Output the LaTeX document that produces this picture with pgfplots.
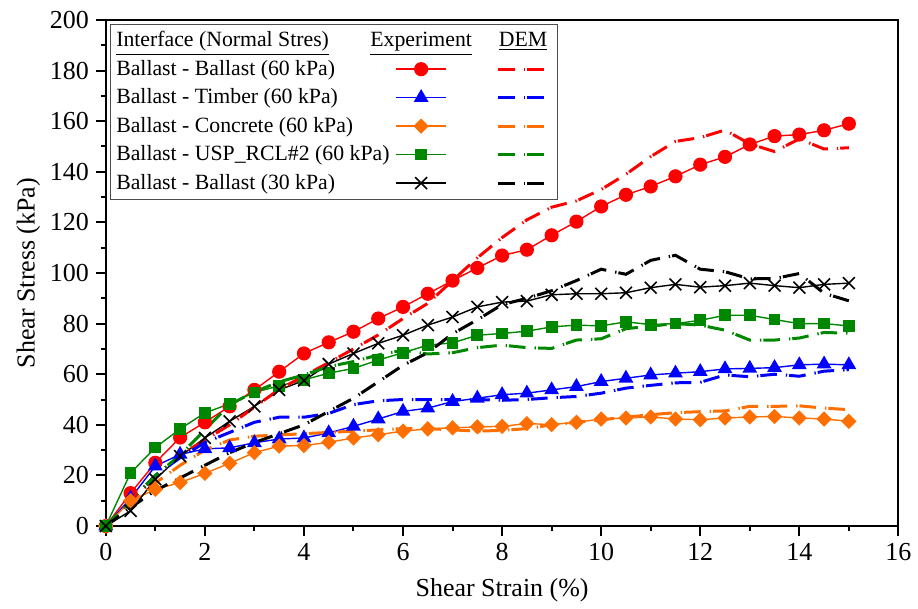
\documentclass[border=0pt]{standalone}
\usepackage{fontspec}
\setmainfont{Liberation Serif}
\usepackage{pgfplots}
\pgfplotsset{compat=1.18}
\definecolor{cred}{RGB}{255,0,0}
\definecolor{cblue}{RGB}{0,0,255}
\definecolor{corange}{RGB}{255,110,0}
\definecolor{cgreen}{RGB}{0,135,0}
\tikzset{demline/.style={line width=1.5pt, line cap=butt, dash pattern=on 8.3pt off 4.5pt on 0.7pt off 1pt}}
\begin{document}
\begin{tikzpicture}
\begin{axis}[
  scale only axis, width=397pt, height=253.5pt,
  xmin=0, xmax=16, ymin=0, ymax=200,
  xtick={0,2,...,16}, ytick={0,20,...,200},
  minor x tick num=1, minor y tick num=1,
  tick align=outside, xtick pos=bottom, ytick pos=left,
  major tick length=5pt, minor tick length=2.5pt,
  every tick/.style={black, line width=1pt},
  axis line style={line width=1pt},
  /pgf/number format/assume math mode=true,
  tick label style={font=\fontsize{13}{15}\selectfont},
  label style={font=\fontsize{13}{15}\selectfont},
  xlabel={Shear Strain (\%)}, ylabel={Shear Stress (kPa)},
  xlabel style={yshift=-2pt}, ylabel style={yshift=-2pt},
  legend columns=3,
  legend image code/.code={\draw[mark repeat=2,mark phase=2,#1] plot coordinates {(0pt,0pt) (12.5pt,0pt) (25pt,0pt)};},
  legend style={at={(0,1)}, anchor=north west, xshift=2pt, yshift=-2pt,
    draw=black!70, line width=0.5pt, font=\fontsize{10.9}{12.5}\selectfont,
    inner xsep=2pt, inner ysep=2pt, row sep=2.2pt, column sep=0pt,
    nodes={inner xsep=1pt, inner ysep=1.5pt},
    /tikz/column 2/.style={column sep=2pt},
    /tikz/column 4/.style={column sep=23pt}},
  legend cell align=left,
]
% Experiments
\addplot[cred, line width=0.7pt, mark=*, mark size=3.2pt, forget plot] coordinates {
(0,0) (0.5,13) (1,25) (1.5,35) (2,41) (2.5,47.3) (3,53.8) (3.5,61) (4,68.2) (4.5,72.6) (5,76.8) (5.5,82) (6,86.6) (6.5,91.8) (7,97) (7.5,102) (8,106.9) (8.5,109.2) (9,114.9) (9.5,120.3) (10,126.3) (10.5,130.9) (11,134.2) (11.5,138.2) (12,142.8) (12.5,145.9) (13,150.8) (13.5,154.1) (14,154.7) (14.5,156.4) (15,159)};
\addplot[cblue, line width=0.7pt, mark=triangle*, mark size=3.6pt, forget plot] coordinates {
(0,0) (0.5,11) (1,23.7) (1.5,28.3) (2,30.5) (2.5,30.9) (3,32.9) (3.5,34.4) (4,34.8) (4.5,36.8) (5,39.4) (5.5,42.3) (6,45.3) (6.5,46.6) (7,49.2) (7.5,50.5) (8,51.9) (8.5,52.5) (9,53.8) (9.5,55.1) (10,57.1) (10.5,58.4) (11,59.7) (11.5,60.4) (12,61) (12.5,62.1) (13,62.3) (13.5,62.6) (14,63.7) (14.5,64) (15,63.7)};
\addplot[corange, line width=0.7pt, mark=diamond*, mark size=3.35pt, mark options={xscale=1.33}, forget plot] coordinates {
(0,0) (0.5,10) (1,14.5) (1.5,17.2) (2,20.8) (2.5,24.8) (3,29) (3.5,31.6) (4,31.8) (4.5,33.1) (5,34.8) (5.5,36.1) (6,37.5) (6.5,38.4) (7,38.8) (7.5,39.2) (8,39.4) (8.5,40.5) (9,40.1) (9.5,41) (10,42.3) (10.5,42.7) (11,43.1) (11.5,42.3) (12,42) (12.5,42.7) (13,43.1) (13.5,43.3) (14,42.7) (14.5,42.3) (15,41.4)};
\addplot[cgreen, line width=0.7pt, mark=square*, mark size=2.6pt, forget plot] coordinates {
(0,0) (0.5,21) (1,31) (1.5,38.4) (2,44.7) (2.5,48.3) (3,52.8) (3.5,55.4) (4,57.8) (4.5,60.4) (5,62.3) (5.5,65.6) (6,68.5) (6.5,71.5) (7,72.4) (7.5,75.4) (8,76.1) (8.5,77) (9,78.7) (9.5,79.4) (10,79.1) (10.5,80.7) (11,79.6) (11.5,80) (12,81.3) (12.5,83.3) (13,83.3) (13.5,81.6) (14,80) (14.5,80) (15,79.1)};
\addplot[black, line width=0.7pt, mark=x, mark size=4.2pt, mark options={line width=0.8pt}, forget plot] coordinates {
(0,0) (0.5,6) (1,18.5) (1.5,27.6) (2,34.8) (2.5,41.4) (3,47.3) (3.5,53.8) (4,57.5) (4.5,64) (5,68.2) (5.5,72.2) (6,75.4) (6.5,79.4) (7,82.6) (7.5,86.6) (8,88.5) (8.5,88.9) (9,91.4) (9.5,91.8) (10,91.8) (10.5,92.2) (11,94.2) (11.5,95.5) (12,94.4) (12.5,95) (13,96) (13.5,95) (14,94.2) (14.5,95.5) (15,96)};
% DEM
\addplot[cred, demline, forget plot] coordinates {
(0,0) (0.5,10) (1,19) (1.5,28) (2,34) (2.5,40) (3,47) (3.5,54) (4,59.3) (4.5,64.6) (5,70) (5.5,75.5) (6,82) (6.5,88) (7,97) (7.5,106) (8,114) (8.5,121) (9,126) (9.5,128.5) (10,133) (10.5,139) (11,146) (11.5,152) (12,153.5) (12.5,156.5) (13,151) (13.5,148) (14,153) (14.5,149) (15,149.5)};
\addplot[cblue, demline, forget plot] coordinates {
(0,0) (0.5,10) (1,20) (1.5,27) (2,33) (2.5,37) (3,41) (3.5,43) (4,43) (4.5,44.5) (5,48) (5.5,49.5) (6,50) (6.5,50) (7,50) (7.5,50) (8,49.7) (8.5,50) (9,50.7) (9.5,51.2) (10,52.5) (10.5,54.5) (11,55.6) (11.5,56.6) (12,56.8) (12.5,59.7) (13,59) (13.5,60) (14,59.2) (14.5,61.2) (15,61.8)};
\addplot[corange, demline, forget plot] coordinates {
(0,0) (0.5,9) (1,17) (1.5,24) (2,30) (2.5,34) (3,35.5) (3.5,36) (4,36.5) (4.5,37) (5,37.5) (5.5,38) (6,38.5) (6.5,38.5) (7,38) (7.5,37.5) (8,37.8) (8.5,38.5) (9,40) (9.5,41) (10,42) (10.5,43) (11,44) (11.5,44.8) (12,45.2) (12.5,45.5) (13,47.3) (13.5,47.3) (14,47.5) (14.5,46.6) (15,46)};
\addplot[cgreen, demline, forget plot] coordinates {
(0,0) (0.5,10) (1,20) (1.5,28) (2,38) (2.5,48) (3,53) (3.5,57) (4,59.7) (4.5,63) (5,65) (5.5,67.6) (6,69.5) (6.5,68) (7,68.5) (7.5,70.5) (8,71.5) (8.5,70.5) (9,70.2) (9.5,73.5) (10,74) (10.5,78) (11,79) (11.5,80) (12,79.4) (12.5,77.4) (13,73.5) (13.5,73.5) (14,74.3) (14.5,76.5) (15,76.2)};
\addplot[black, demline, forget plot] coordinates {
(0,0) (0.5,7.3) (1,14) (1.5,19) (2,24) (2.5,29) (3,33) (3.5,36.5) (4,40) (4.5,45.3) (5,50.5) (5.5,57) (6,63.5) (6.5,68.5) (7,76) (7.5,81.5) (8,87.5) (8.5,90) (9,93) (9.5,97) (10,101.5) (10.5,99.5) (11,105) (11.5,107) (12,101.5) (12.5,100.5) (13,97.7) (13.5,97.8) (14,99.8) (14.5,92) (15,89)};
% Legend
\addlegendimage{empty legend}
\addlegendentry{\underline{Interface (Normal Stres)}}
\addlegendimage{legend image code/.code={\node[overlay, anchor=base, inner sep=0pt] at (12.5pt,-3pt) {\underline{Experiment}};}}
\addlegendentry{}
\addlegendimage{legend image code/.code={\node[overlay, anchor=base, inner sep=0pt] at (12.5pt,-3pt) {\underline{DEM}};}}
\addlegendentry{}
%
\addlegendimage{empty legend}
\addlegendentry{Ballast - Ballast (60 kPa)}
\addlegendimage{cred, line width=0.7pt, mark=*, mark size=3.2pt}
\addlegendentry{}
\addlegendimage{cred, demline}
\addlegendentry{}
%
\addlegendimage{empty legend}
\addlegendentry{Ballast - Timber (60 kPa)}
\addlegendimage{cblue, line width=0.7pt, mark=triangle*, mark size=3.6pt}
\addlegendentry{}
\addlegendimage{cblue, demline}
\addlegendentry{}
%
\addlegendimage{empty legend}
\addlegendentry{Ballast - Concrete (60 kPa)}
\addlegendimage{corange, line width=0.7pt, mark=diamond*, mark size=3.35pt, mark options={xscale=1.33}}
\addlegendentry{}
\addlegendimage{corange, demline}
\addlegendentry{}
%
\addlegendimage{empty legend}
\addlegendentry{Ballast - USP\_RCL\#2 (60 kPa)}
\addlegendimage{cgreen, line width=0.7pt, mark=square*, mark size=2.6pt}
\addlegendentry{}
\addlegendimage{cgreen, demline}
\addlegendentry{}
%
\addlegendimage{empty legend}
\addlegendentry{Ballast - Ballast (30 kPa)}
\addlegendimage{black, line width=0.7pt, mark=x, mark size=4.2pt, mark options={line width=0.8pt}}
\addlegendentry{}
\addlegendimage{black, demline}
\addlegendentry{}
\end{axis}
\path ([shift={(-53pt,-37pt)}]current axis.south west) rectangle ([shift={(9pt,10pt)}]current axis.north east);
\end{tikzpicture}
\end{document}
